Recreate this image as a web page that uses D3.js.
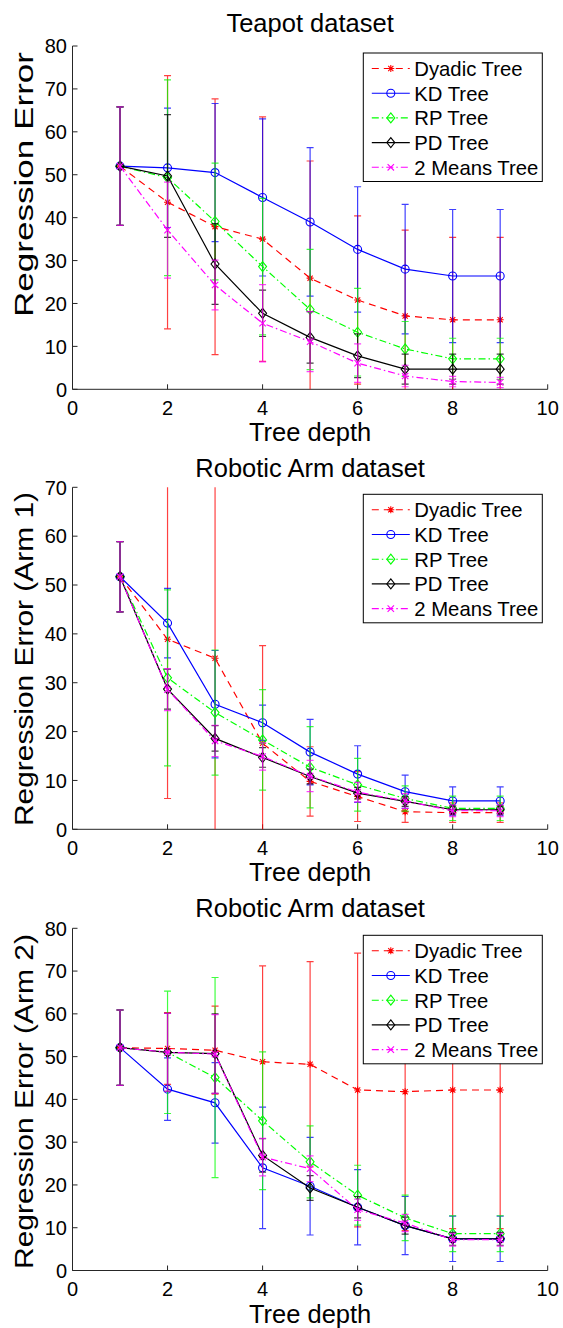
<!DOCTYPE html>
<html>
<head>
<meta charset="utf-8">
<script src="https://cdn.jsdelivr.net/npm/d3@7"></script>
<style>
  html, body { margin: 0; padding: 0; background: #fff; }
  svg { display: block; }
  text { font-family: "Liberation Sans", Arial, Helvetica, sans-serif; fill: #000; }
</style>
</head>
<body>
<svg id="chart" width="563" height="1328"></svg>
<script>
// ---------- DATA ----------
const depths = [1, 2, 3, 4, 5, 6, 7, 8, 9];
const seriesNames = ["Dyadic Tree", "KD Tree", "RP Tree", "PD Tree", "2 Means Tree"];
const xTicks = [0, 2, 4, 6, 8, 10];
const panelTitles = ["Teapot dataset", "Robotic Arm dataset", "Robotic Arm dataset"];
const panelYLabels = ["Regression Error", "Regression Error (Arm 1)", "Regression Error (Arm 2)"];
const xLabel = "Tree depth";
const yMaxes = [80, 70, 80];

// Teapot
const teapotDyadic    = [52.0, 43.6, 37.9, 35.0, 25.9, 20.8, 17.1, 16.2, 16.2];
const teapotDyadicErr = [13.8, 29.5, 29.8, 28.5, 27.3, 19.6, 20.0, 19.2, 19.2];
const teapotKD        = [52.0, 51.6, 50.5, 44.7, 39.0, 32.6, 28.0, 26.4, 26.4];
const teapotKDErr     = [13.8, 13.9, 16.1, 18.3, 17.3, 14.6, 15.1, 15.5, 15.5];
const teapotRP        = [52.0, 49.3, 39.1, 28.6, 18.6, 13.3, 9.4, 7.1, 7.1];
const teapotRPErr     = [13.8, 22.8, 13.6, 15.9, 14.0, 10.2, 6.4, 4.8, 4.8];
const teapotPD        = [52.0, 49.7, 29.2, 17.7, 12.1, 7.8, 4.7, 4.7, 4.7];
const teapotPDErr     = [13.8, 14.3, 9.4, 5.4, 6.0, 5.1, 3.5, 3.5, 3.5];
const teapot2M        = [52.0, 37.1, 24.3, 15.4, 11.1, 6.1, 3.1, 1.8, 1.6];
const teapot2MErr     = [13.8, 11.2, 5.8, 9.0, 7.0, 4.5, 2.5, 1.2, 1.2];

// Robotic arm 1
const arm1Dyadic    = [51.7, 38.9, 35.0, 17.6, 9.8, 6.7, 3.6, 3.4, 3.4];
const arm1DyadicErr = [7.2, 32.6, 37.0, 20.0, 7.1, 5.1, 2.2, 2.0, 2.0];
const arm1KD        = [51.7, 42.2, 25.6, 21.8, 15.8, 11.3, 7.7, 5.8, 5.8];
const arm1KDErr     = [7.2, 7.1, 11.0, 3.6, 6.7, 5.8, 3.4, 2.9, 2.9];
const arm1RP        = [51.7, 31.0, 23.9, 18.3, 12.7, 9.1, 6.3, 4.3, 4.3];
const arm1RPErr     = [7.2, 18.0, 12.8, 10.3, 8.3, 5.4, 2.6, 2.5, 2.5];
const arm1PD        = [51.7, 28.7, 18.6, 14.7, 10.8, 7.4, 5.7, 4.0, 4.0];
const arm1PDErr     = [7.2, 4.1, 2.6, 2.0, 1.5, 1.2, 1.0, 0.8, 0.8];
const arm12M        = [51.7, 28.6, 18.1, 14.9, 10.9, 7.6, 5.8, 3.8, 3.8];
const arm12MErr     = [7.2, 4.3, 3.2, 2.8, 3.2, 2.0, 1.5, 1.2, 1.2];

// Robotic arm 2
const arm2Dyadic    = [52.1, 51.9, 51.5, 48.8, 48.2, 42.2, 41.8, 42.2, 42.2];
const arm2DyadicErr = [8.8, 8.4, 10.3, 22.4, 24.0, 32.0, 32.5, 32.4, 32.4];
const arm2KD        = [52.1, 42.4, 39.2, 24.0, 19.7, 14.8, 10.5, 7.4, 7.4];
const arm2KDErr     = [8.8, 7.3, 9.4, 14.2, 11.4, 8.8, 6.8, 5.3, 5.3];
const arm2RP        = [52.1, 51.0, 45.1, 35.0, 25.4, 17.6, 12.3, 8.6, 8.6];
const arm2RPErr     = [8.8, 14.3, 23.4, 16.1, 8.4, 7.0, 5.3, 4.2, 4.2];
const arm2PD        = [52.1, 51.0, 50.7, 26.9, 19.3, 14.8, 10.5, 7.4, 7.4];
const arm2PDErr     = [8.8, 9.1, 9.3, 3.9, 2.9, 2.5, 2.0, 1.5, 1.5];
const arm22M        = [52.1, 51.0, 50.6, 26.5, 23.8, 14.2, 11.1, 7.2, 7.2];
const arm22MErr     = [8.8, 9.1, 9.2, 4.4, 3.0, 2.5, 2.0, 1.5, 1.5];

// ---------- STYLES ----------
const styles = [
  { color: "#ff0000", dash: "7,5",       marker: "star" },
  { color: "#0000ff", dash: null,        marker: "circle" },
  { color: "#00ff00", dash: "7,3,1.5,3", marker: "diamond" },
  { color: "#000000", dash: null,        marker: "diamond" },
  { color: "#ff00ff", dash: "7,3,1.5,3", marker: "x" }
];

const panels = [
  { top: 46,    bottom: 389.3,  titleY: 32,  ylabel: [52, 317],
    series: [[teapotDyadic, teapotDyadicErr],[teapotKD, teapotKDErr],[teapotRP, teapotRPErr],[teapotPD, teapotPDErr],[teapot2M, teapot2MErr]] },
  { top: 487.3, bottom: 829.3,  titleY: 477, ylabel: [492, 826],
    series: [[arm1Dyadic, arm1DyadicErr],[arm1KD, arm1KDErr],[arm1RP, arm1RPErr],[arm1PD, arm1PDErr],[arm12M, arm12MErr]] },
  { top: 928.3, bottom: 1270.5, titleY: 917, ylabel: [934, 1269],
    series: [[arm2Dyadic, arm2DyadicErr],[arm2KD, arm2KDErr],[arm2RP, arm2RPErr],[arm2PD, arm2PDErr],[arm22M, arm22MErr]] }
];

const left = 72.5, right = 547.7;
const svg = d3.select("#chart");
const x = d3.scaleLinear().domain([0, 10]).range([left, right]);

function drawMarker(g, type, cx, cy, color) {
  if (type === "circle") {
    g.append("circle").attr("cx", cx).attr("cy", cy).attr("r", 4)
      .attr("fill", "none").attr("stroke", color).attr("stroke-width", 1.1);
  } else if (type === "diamond") {
    g.append("path").attr("d", `M${cx},${cy-5}L${cx+4},${cy}L${cx},${cy+5}L${cx-4},${cy}Z`)
      .attr("fill", "none").attr("stroke", color).attr("stroke-width", 1.1);
  } else if (type === "x") {
    const s = 3.2;
    g.append("path").attr("d", `M${cx-s},${cy-s}L${cx+s},${cy+s}M${cx-s},${cy+s}L${cx+s},${cy-s}`)
      .attr("stroke", color).attr("stroke-width", 1.1).attr("fill", "none");
  } else if (type === "star") {
    const s = 3.5, d = 2.6;
    g.append("path").attr("d", `M${cx-s},${cy}L${cx+s},${cy}M${cx},${cy-s}L${cx},${cy+s}M${cx-d},${cy-d}L${cx+d},${cy+d}M${cx-d},${cy+d}L${cx+d},${cy-d}`)
      .attr("stroke", color).attr("stroke-width", 1.1).attr("fill", "none");
  }
}

panels.forEach((p, pi) => {
  const yMax = yMaxes[pi];
  const y = d3.scaleLinear().domain([0, yMax]).range([p.bottom, p.top]);
  const g = svg.append("g");

  const clipId = "clip" + pi;
  svg.append("clipPath").attr("id", clipId).append("rect")
    .attr("x", left - 10).attr("y", p.top).attr("width", right - left + 20).attr("height", p.bottom - p.top);

  // title
  g.append("text").attr("x", (left + right) / 2).attr("y", p.titleY)
    .attr("text-anchor", "middle").attr("font-size", 25.5).text(panelTitles[pi]);

  // axes
  const axisColor = "#262626";
  g.append("line").attr("x1", left).attr("x2", left).attr("y1", p.top).attr("y2", p.bottom)
    .attr("stroke", axisColor).attr("stroke-width", 1);
  g.append("line").attr("x1", left).attr("x2", right).attr("y1", p.bottom).attr("y2", p.bottom)
    .attr("stroke", axisColor).attr("stroke-width", 1);

  const yTicks = d3.range(0, yMax + 1, 10);
  yTicks.forEach(t => {
    g.append("line").attr("x1", left).attr("x2", left + 5).attr("y1", y(t)).attr("y2", y(t))
      .attr("stroke", axisColor).attr("stroke-width", 1);
    g.append("text").attr("x", left - 5.5).attr("y", y(t)).attr("dy", "0.36em")
      .attr("text-anchor", "end").attr("font-size", 20).text(t);
  });
  xTicks.forEach(t => {
    g.append("line").attr("x1", x(t)).attr("x2", x(t)).attr("y1", p.bottom).attr("y2", p.bottom - 5)
      .attr("stroke", axisColor).attr("stroke-width", 1);
    g.append("text").attr("x", x(t)).attr("y", p.bottom + 25.5)
      .attr("text-anchor", "middle").attr("font-size", 20).text(t);
  });

  // labels
  g.append("text").attr("x", (left + right) / 2).attr("y", p.bottom + 52)
    .attr("text-anchor", "middle").attr("font-size", 25.5).text(xLabel);
  const ylen = p.ylabel[1] - p.ylabel[0];
  g.append("text")
    .attr("transform", `translate(33,${p.ylabel[1]}) rotate(-90)`)
    .attr("x", 0).attr("y", 0)
    .attr("font-size", 26)
    .attr("textLength", ylen).attr("lengthAdjust", "spacingAndGlyphs")
    .text(panelYLabels[pi]);

  // series
  const plot = g.append("g").attr("clip-path", `url(#${clipId})`);
  p.series.forEach((sd, si) => {
    const vals = sd[0], errs = sd[1];
    const st = styles[si];
    const sg = plot.append("g");
    // error bars
    depths.forEach((d, i) => {
      const cx = x(d), y1 = y(vals[i] + errs[i]), y2 = y(vals[i] - errs[i]);
      sg.append("path")
        .attr("d", `M${cx},${y1}L${cx},${y2}M${cx-3.5},${y1}L${cx+3.5},${y1}M${cx-3.5},${y2}L${cx+3.5},${y2}`)
        .attr("stroke", st.color).attr("stroke-width", 1.2).attr("stroke-opacity", 0.75).attr("fill", "none");
    });
    // line
    const line = d3.line().x((v, i) => x(depths[i])).y(v => y(v));
    sg.append("path").attr("d", line(vals)).attr("fill", "none")
      .attr("stroke", st.color).attr("stroke-width", 1.2)
      .attr("stroke-dasharray", st.dash);
    depths.forEach((d, i) => drawMarker(sg, st.marker, x(d), y(vals[i]), st.color));
  });

  // legend
  const lx = 363.3, ly = p.top + 7, lw = 179, lh = 128.5;
  const lg = g.append("g");
  lg.append("rect").attr("x", lx).attr("y", ly).attr("width", lw).attr("height", lh)
    .attr("fill", "#fff").attr("stroke", "#000").attr("stroke-width", 1);
  seriesNames.forEach((name, si) => {
    const st = styles[si];
    const ry = ly + 15.5 + si * 24.7;
    lg.append("line").attr("x1", lx + 8.5).attr("x2", lx + 46.5).attr("y1", ry).attr("y2", ry)
      .attr("stroke", st.color).attr("stroke-width", 1.1).attr("stroke-dasharray", st.dash);
    drawMarker(lg, st.marker, lx + 27.5, ry, st.color);
    lg.append("text").attr("x", lx + 51).attr("y", ry).attr("dy", "0.36em")
      .attr("font-size", 20.3).text(name);
  });
});
</script>
</body>
</html>
